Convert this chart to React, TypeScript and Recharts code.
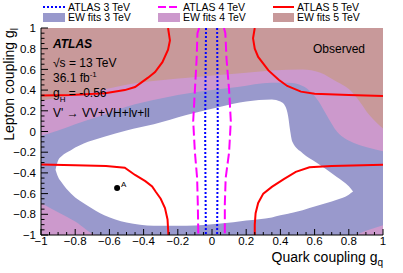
import { ComposedChart, XAxis, YAxis, Area, Line, Scatter } from 'recharts';

const FONT = '"Liberation Sans", Arial, Helvetica, sans-serif';
const BROWN = '#c8999a';
const PINK = '#cc99cc';
const LILAC = '#9999cc';

const X_TICKS = [-1, -0.8, -0.6, -0.4, -0.2, 0, 0.2, 0.4, 0.6, 0.8, 1];
const X_TICK_LABELS = ['−1', '−0.8', '−0.6', '−0.4', '−0.2', '0', '0.2', '0.4', '0.6', '0.8', '1'];
const Y_TICKS = [-1, -0.8, -0.6, -0.4, -0.2, 0, 0.2, 0.4, 0.6, 0.8, 1];
const Y_TICK_LABELS = ['−1', '−0.8', '−0.6', '−0.4', '−0.2', '0', '0.2', '0.4', '0.6', '0.8', '1'];
// minor tick positions every 0.05
const MINOR_TICKS = Array.from({ length: 41 }, (_, i) => Math.round((-1 + i * 0.05) * 100) / 100);

// EW fits 5 TeV: excluded everywhere in view
const EW5_GQ = [-1, 1];
const EW5_LO = [-1, -1];
const EW5_HI = [1, 1];

// EW fits 4 TeV
const EW4_GQ = [-1, -0.71, -0.43, -0.14, 0.15, 0.35, 0.53, 0.63, 0.73, 0.8, 0.85, 0.92, 1];
const EW4_LO = [-1, -1, -1, -1, -1, -1, -1, -1, -1, -1, -1, -1, -1];
const EW4_HI = [0.3, 0.38, 0.47, 0.52, 0.56, 0.59, 0.6, 0.57, 0.48, 0.41, 0.32, 0.16, 0.03];

// EW fits 3 TeV
const EW3_GQ = [-1, -0.9, -0.8, -0.67, -0.5, -0.3, -0.1, 0.15, 0.35, 0.45, 0.53, 0.58, 0.62, 0.67, 0.73, 0.78, 0.83, 0.9, 1];
const EW3_LO = [-0.69, -0.78, -0.87, -1, -1, -1, -1, -1, -1, -1, -1, -1, -1, -1, -1, -1, -1, -0.96, -0.905];
const EW3_HI = [-0.04, 0.01, 0.07, 0.14, 0.24, 0.32, 0.38, 0.43, 0.47, 0.47, 0.44, 0.38, 0.3, 0.16, 0.0, -0.07, -0.11, -0.15, -0.19];

// allowed region (white)
const OK_GQ = [-0.915, -0.9, -0.88, -0.825, -0.725, -0.63, -0.5, -0.34, -0.15, 0.05, 0.2, 0.35, 0.4, 0.43, 0.445, 0.456, 0.47, 0.53, 0.61, 0.73, 0.8, 0.825];
const OK_LO = [-0.37, -0.44, -0.49, -0.6, -0.72, -0.81, -0.88, -0.91, -0.91, -0.89, -0.86, -0.83, -0.81, -0.8, -0.795, -0.79, -0.785, -0.76, -0.72, -0.66, -0.61, -0.58];
const OK_HI = [-0.37, -0.28, -0.24, -0.18, -0.1, -0.05, 0.01, 0.07, 0.16, 0.24, 0.29, 0.31, 0.29, 0.24, 0.15, 0.02, -0.1, -0.21, -0.3, -0.44, -0.53, -0.58];

// ATLAS 3 TeV contours [gq, gl]
const A3_LEFT = [[-0.035, 1], [-0.038, 0.5], [-0.04, 0], [-0.038, -0.5], [-0.036, -1]];
const A3_RIGHT = [[0.03, 1], [0.032, 0.5], [0.034, 0], [0.032, -0.5], [0.03, -1]];

// ATLAS 4 TeV contours
const A4_LEFT = [[-0.075, 1], [-0.085, 0.95], [-0.09, 0.7], [-0.1, 0.4], [-0.11, 0.1], [-0.1, -0.2], [-0.087, -0.45], [-0.083, -0.7], [-0.08, -1]];
const A4_RIGHT = [[0.07, 1], [0.078, 0.95], [0.085, 0.7], [0.1, 0.4], [0.11, 0.1], [0.1, -0.2], [0.08, -0.45], [0.075, -0.7], [0.075, -1]];

// ATLAS 5 TeV contours
const A5_TL = [[-0.257, 1], [-0.246, 0.88], [-0.257, 0.79], [-0.29, 0.67], [-0.333, 0.575], [-0.374, 0.52], [-0.45, 0.43], [-0.51, 0.4], [-0.626, 0.37], [-0.825, 0.353], [-1, 0.348]];
const A5_TR = [[0.25, 1], [0.24, 0.9], [0.25, 0.8], [0.27, 0.72], [0.33, 0.59], [0.39, 0.5], [0.44, 0.44], [0.52, 0.385], [0.6, 0.365], [0.8, 0.352], [1, 0.343]];
const A5_BL = [[-1, -0.32], [-0.8, -0.325], [-0.62, -0.333], [-0.51, -0.35], [-0.45, -0.42], [-0.39, -0.48], [-0.35, -0.53], [-0.33, -0.58], [-0.3, -0.65], [-0.275, -0.74], [-0.26, -0.85], [-0.255, -1]];
const A5_BR = [[0.25, -1], [0.25, -0.9], [0.255, -0.79], [0.27, -0.69], [0.3, -0.6], [0.35, -0.535], [0.42, -0.46], [0.49, -0.39], [0.57, -0.345], [0.7, -0.333], [1, -0.322]];

const POINT_A = [[-0.555, -0.546]];

const band = (gq: number[], lo: number[], hi: number[]) => gq.map((x, i) => ({ x, range: [lo[i], hi[i]] }));
const curve = (pts: number[][]) => pts.map(([x, y]) => ({ x, y }));

const labelFor = (v: number, ticks: number[], labels: string[]) => {
  const i = ticks.findIndex(t => Math.abs(t - v) < 1e-6);
  return i >= 0 ? labels[i] : null;
};

const BottomTick = ({ x, y, payload }: any) => {
  const lab = labelFor(payload.value, X_TICKS, X_TICK_LABELS);
  return (
    <g>
      <line x1={x} x2={x} y1={y} y2={y - (lab !== null ? 6 : 3)} stroke="#000" />
      {lab !== null && (
        <text x={x} y={y + 9.6} textAnchor="middle" fontSize={11.5} fontFamily={FONT} fill="#000">{lab}</text>
      )}
    </g>
  );
};

const TopTick = ({ x, y, payload }: any) => {
  const major = labelFor(payload.value, X_TICKS, X_TICK_LABELS) !== null;
  return <line x1={x} x2={x} y1={y} y2={y + (major ? 6 : 3)} stroke="#000" />;
};

const LeftTick = ({ x, y, payload }: any) => {
  const lab = labelFor(payload.value, Y_TICKS, Y_TICK_LABELS);
  return (
    <g>
      <line x1={x} x2={x + (lab !== null ? 7 : 3.5)} y1={y} y2={y} stroke="#000" />
      {lab !== null && (
        <text x={x - 5} y={y + 4.1} textAnchor="end" fontSize={11.5} fontFamily={FONT} fill="#000">{lab}</text>
      )}
    </g>
  );
};

const RightTick = ({ x, y, payload }: any) => {
  const major = labelFor(payload.value, Y_TICKS, Y_TICK_LABELS) !== null;
  return <line x1={x} x2={x - (major ? 7 : 3.5)} y1={y} y2={y} stroke="#000" />;
};

const PointA = ({ cx, cy }: any) => (
  <g>
    <circle cx={cx} cy={cy} r={3} fill="#000" />
    <text x={cx + 4} y={cy - 1} fontSize={8} fontFamily={FONT} fill="#000">A</text>
  </g>
);

const axisCommon = {
  type: 'number' as const,
  domain: [-1, 1],
  allowDataOverflow: true,
  ticks: MINOR_TICKS,
  interval: 0 as const,
  tickSize: 0,
  tickMargin: 0,
  tickLine: false,
  axisLine: { stroke: '#000' },
};

export default function App() {
  return (
    <div style={{ position: 'relative', width: 403, height: 273, background: '#fff', fontFamily: FONT }}>
      <style>{'body{margin:0}'}</style>
      <ComposedChart width={403} height={273} margin={{ top: 28, right: 20, bottom: 18, left: 11 }}>
        <XAxis dataKey="x" {...axisCommon} height={20} tick={BottomTick} />
        <XAxis xAxisId="top" orientation="top" dataKey="x" {...axisCommon} height={0} tick={TopTick} />
        <YAxis {...axisCommon} width={30} tick={LeftTick} />
        <YAxis yAxisId="right" orientation="right" {...axisCommon} width={0} tick={RightTick} />

        <Area data={band(EW5_GQ, EW5_LO, EW5_HI)} dataKey="range" type="linear" fill={BROWN} fillOpacity={1} stroke="none" dot={false} activeDot={false} isAnimationActive={false} />
        <Area data={band(EW4_GQ, EW4_LO, EW4_HI)} dataKey="range" type="monotone" fill={PINK} fillOpacity={1} stroke="none" dot={false} activeDot={false} isAnimationActive={false} />
        <Area data={band(EW3_GQ, EW3_LO, EW3_HI)} dataKey="range" type="monotone" fill={LILAC} fillOpacity={1} stroke="none" dot={false} activeDot={false} isAnimationActive={false} />
        <Area data={band(OK_GQ, OK_LO, OK_HI)} dataKey="range" type="monotone" fill="#fff" fillOpacity={1} stroke="none" dot={false} activeDot={false} isAnimationActive={false} />

        <Line data={curve(A3_LEFT)} dataKey="y" type="linear" stroke="#0000ff" strokeWidth={2} strokeDasharray="2 2" dot={false} activeDot={false} isAnimationActive={false} />
        <Line data={curve(A3_RIGHT)} dataKey="y" type="linear" stroke="#0000ff" strokeWidth={2} strokeDasharray="2 2" dot={false} activeDot={false} isAnimationActive={false} />
        <Line data={curve(A4_LEFT)} dataKey="y" type="linear" stroke="#ff00ff" strokeWidth={2} strokeDasharray="10 4" dot={false} activeDot={false} isAnimationActive={false} />
        <Line data={curve(A4_RIGHT)} dataKey="y" type="linear" stroke="#ff00ff" strokeWidth={2} strokeDasharray="10 4" dot={false} activeDot={false} isAnimationActive={false} />
        <Line data={curve(A5_TL)} dataKey="y" type="linear" stroke="#ff0000" strokeWidth={2} dot={false} activeDot={false} isAnimationActive={false} />
        <Line data={curve(A5_TR)} dataKey="y" type="linear" stroke="#ff0000" strokeWidth={2} dot={false} activeDot={false} isAnimationActive={false} />
        <Line data={curve(A5_BL)} dataKey="y" type="linear" stroke="#ff0000" strokeWidth={2} dot={false} activeDot={false} isAnimationActive={false} />
        <Line data={curve(A5_BR)} dataKey="y" type="linear" stroke="#ff0000" strokeWidth={2} dot={false} activeDot={false} isAnimationActive={false} />

        <Scatter data={curve(POINT_A)} dataKey="y" shape={PointA} isAnimationActive={false} />
      </ComposedChart>

      <svg width={403} height={273} style={{ position: 'absolute', left: 0, top: 0, pointerEvents: 'none' }} fontFamily={FONT}>
        {/* legend */}
        <line x1={43} x2={65} y1={7} y2={7} stroke="#0000ff" strokeWidth={2} strokeDasharray="2 2" />
        <text x={68} y={10.8} fontSize={10.5}>ATLAS 3 TeV</text>
        <line x1={158} x2={180} y1={7} y2={7} stroke="#ff00ff" strokeWidth={2} strokeDasharray="8 3" />
        <text x={183} y={10.8} fontSize={10.5}>ATLAS 4 TeV</text>
        <line x1={273} x2={294} y1={7} y2={7} stroke="#ff0000" strokeWidth={2} />
        <text x={297} y={10.8} fontSize={10.5}>ATLAS 5 TeV</text>
        <rect x={43} y={13} width={22} height={9} fill={LILAC} />
        <text x={68} y={21.3} fontSize={10.5}>EW fits 3 TeV</text>
        <rect x={158} y={13} width={22} height={9} fill={PINK} />
        <text x={183} y={21.3} fontSize={10.5}>EW fits 4 TeV</text>
        <rect x={273} y={13} width={21} height={9} fill={BROWN} />
        <text x={297} y={21.3} fontSize={10.5}>EW fits 5 TeV</text>

        {/* annotations */}
        <text x={53} y={48} fontSize={12} fontWeight="bold" fontStyle="italic">ATLAS</text>
        <text x={53} y={67} fontSize={12}>√s = 13 TeV</text>
        <text x={53} y={82} fontSize={12}>36.1 fb<tspan fontSize={8} dy={-5}>-1</tspan></text>
        <text x={53} y={96.5} fontSize={12}>g<tspan fontSize={8} dy={5}>H</tspan><tspan dy={-5}> = -0.56</tspan></text>
        <text x={53} y={117} fontSize={12}>V' → VV+VH+lv+ll</text>
        <text x={313} y={53} fontSize={12}>Observed</text>

        {/* axis titles */}
        <text x={383} y={262} fontSize={14} textAnchor="end">Quark coupling g<tspan fontSize={10} dy={4}>q</tspan></text>
        <text transform="translate(14,28) rotate(-90)" fontSize={14} textAnchor="end">Lepton coupling g<tspan fontSize={10} dy={4}>l</tspan></text>
      </svg>
    </div>
  );
}
